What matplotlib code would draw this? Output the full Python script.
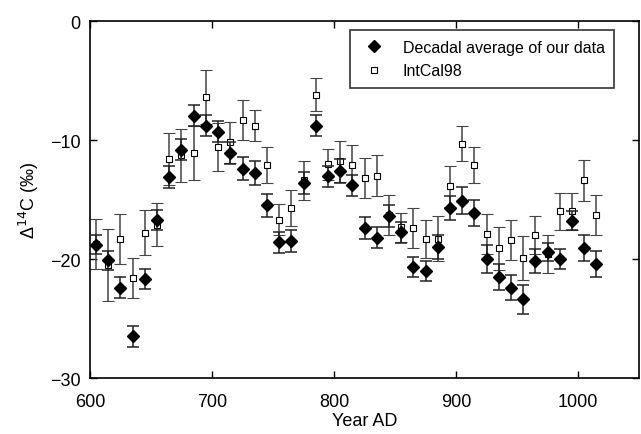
import numpy as np
import matplotlib
matplotlib.use("Agg")
import matplotlib.pyplot as plt
from matplotlib.lines import Line2D

plt.rcParams['font.family'] = ['Liberation Sans', 'DejaVu Sans']

# decadal average of our data
years = np.arange(605, 1016, 10)
ours = [-18.8, -20.1, -22.4, -26.5, -21.7, -16.7, -13.1, -10.8, -7.95, -8.8,
        -9.3, -11.1, -12.4, -12.8, -15.5, -18.6, -18.5, -13.6, -8.8, -13.05,
        -12.6, -13.8, -17.4, -18.2, -16.4, -17.75, -20.7, -21.0, -19.0, -15.7,
        -15.1, -16.1, -20.0, -21.5, -22.4, -23.4, -20.2, -19.4, -20.0, -16.8,
        -19.05, -20.45]
ours_err = [0.8, 0.8, 0.85, 0.9, 0.85, 0.85, 0.9, 0.9, 0.9, 0.9,
            0.9, 0.9, 0.95, 1.0, 1.0, 0.9, 0.9, 0.9, 0.9, 0.9,
            1.0, 0.9, 0.9, 0.9, 0.9, 0.9, 0.85, 0.85, 1.0, 1.0,
            1.15, 1.1, 1.15, 1.1, 1.05, 1.25, 1.0, 0.75, 0.85, 0.8,
            1.1, 1.1]

# IntCal98
intcal = [-18.7, -20.5, -18.3, -21.6, -17.8, -17.1, -11.6, -11.3, -11.1, -6.4,
          -10.6, -10.2, -8.3, -8.8, -12.1, -16.7, -15.7, -13.4, -6.2, -12.05,
          -11.8, -12.1, -13.2, -13.0, -16.3, -17.35, -17.4, -18.3, -18.3, -13.9,
          -10.3, -12.1, -17.9, -19.1, -18.4, -19.9, -18.0, -19.6, -16.0, -16.0,
          -13.4, -16.3]
intcal_err = [2.1, 3.0, 2.1, 1.7, 1.9, 1.8, 2.2, 2.2, 2.3, 2.25,
              2.0, 1.75, 1.7, 1.3, 1.5, 1.3, 1.5, 1.6, 1.4, 1.3,
              1.75, 1.7, 1.7, 1.7, 1.7, 1.25, 1.7, 1.6, 1.9, 1.7,
              1.5, 1.5, 1.65, 1.8, 1.7, 1.85, 1.6, 1.6, 1.55, 1.55,
              1.7, 1.7]

fig = plt.figure(figsize=(6.41, 4.35), dpi=100)
ax = fig.add_axes([0.1404, 0.1287, 0.8565, 0.8207])

ax.errorbar(years, intcal, yerr=intcal_err, fmt='s', ms=4.5, mfc='white',
            mec='black', mew=0.8, ecolor='#444444', elinewidth=1.1,
            capsize=4, capthick=1.1, zorder=2)
ax.errorbar(years, ours, yerr=ours_err, fmt='D', ms=6, mfc='black',
            mec='black', ecolor='#222222', elinewidth=1.1,
            capsize=4, capthick=1.1, zorder=3)

ax.set_xlim(600, 1050)
ax.set_ylim(-30, 0)
ax.set_xticks([600, 700, 800, 900, 1000])
ax.set_yticks([0, -10, -20, -30])
ax.set_yticklabels(['0', '\u221210', '\u221220', '\u221230'])
ax.tick_params(direction='in', top=True, right=True, length=5, width=1,
               labelsize=13)
ax.tick_params(axis='x', pad=11)
ax.tick_params(axis='y', pad=7)
for s in ax.spines.values():
    s.set_linewidth(1.2)

ax.set_xlabel('Year AD', fontsize=13, labelpad=1)
ax.set_ylabel('\u0394$^{14}$C (\u2030)', fontsize=13, labelpad=6)

handles = [Line2D([], [], ls='none', marker='D', ms=6, mfc='black', mec='black'),
           Line2D([], [], ls='none', marker='s', ms=4.5, mfc='white', mec='black', mew=0.8)]
labels = ['Decadal average of our data', 'IntCal98']
leg = ax.legend(handles, labels, loc='upper right',
                bbox_to_anchor=(0.955, 0.975), fontsize=11.5,
                frameon=True, fancybox=False, edgecolor='black',
                handlelength=1.8, handletextpad=0.9, borderpad=0.6,
                labelspacing=0.55, borderaxespad=0)
leg.get_frame().set_linewidth(1.2)

fig.savefig('out.png', dpi=100)
